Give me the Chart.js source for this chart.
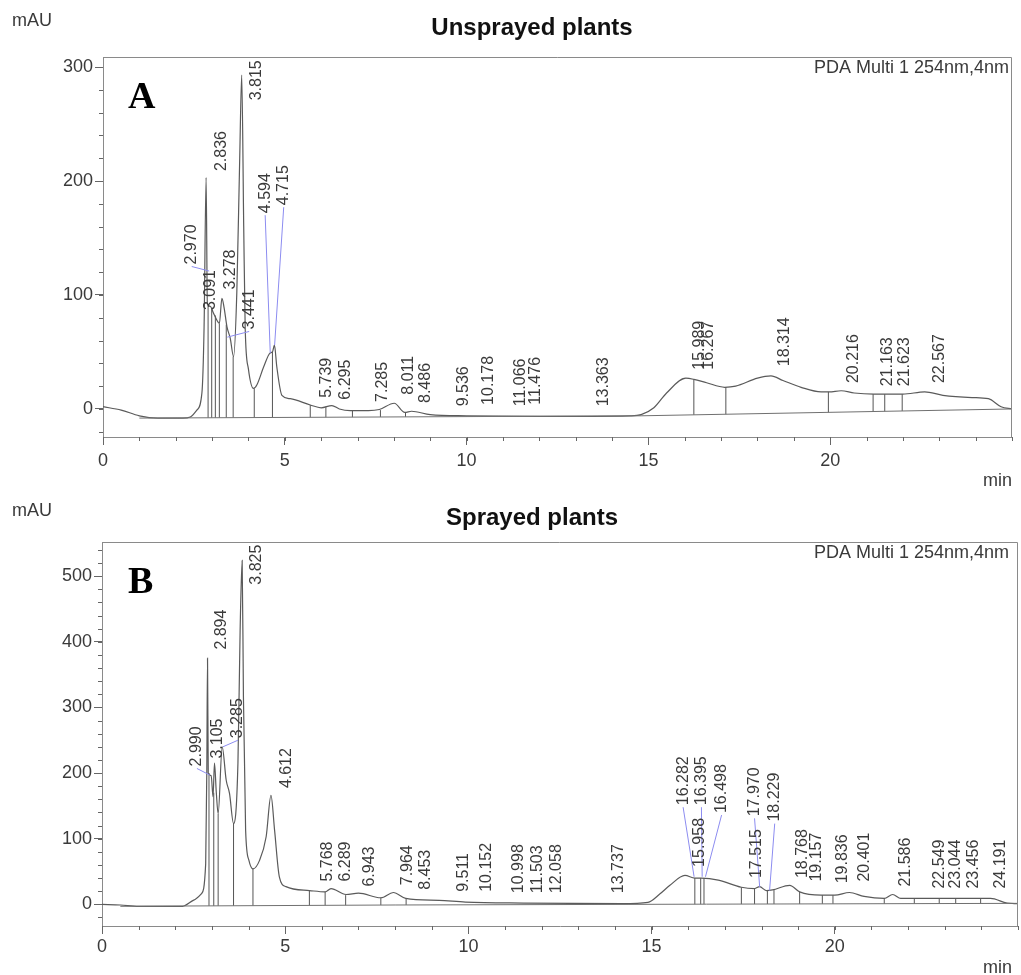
<!DOCTYPE html>
<html>
<head>
<meta charset="utf-8">
<title>HPLC chromatograms</title>
<script src="https://cdn.jsdelivr.net/npm/chart.js@4.4.1/dist/chart.umd.min.js"></script>
<style>
  body { margin: 0; background: #fff; }
  canvas { display: block; }
</style>
</head>
<body>
<canvas id="chartA" width="1021" height="490"></canvas>
<canvas id="chartB" width="1021" height="485"></canvas>
<script>
// ---- Panel A: unsprayed plants ----
const timeA = [0, 0.5, 1.0, 1.5, 2.2, 2.4, 2.58, 2.72, 2.78, 2.836, 2.87, 2.95, 3.04, 3.13, 3.20, 3.27, 3.33, 3.41, 3.50, 3.59,
  3.68, 3.76, 3.815, 3.87, 3.91, 4.0, 4.14, 4.23, 4.42, 4.594, 4.66, 4.715, 4.78, 4.92, 5.15, 5.7, 6.0, 6.295, 6.5, 6.8,
  7.3, 7.6, 8.011, 8.3, 8.486, 9.0, 10, 12, 14.5, 14.8, 15.15, 15.5, 16.03, 16.25, 16.6, 17.1, 17.4, 18.0, 18.37, 18.7,
  19.2, 19.75, 19.97, 20.3, 20.66, 21.2, 22.0, 22.6, 23.1, 23.9, 24.35, 24.7, 25.0];
const mauA = [2, -1, -6, -8, -8, -7, -1, 14, 72, 203, 92, 90, 84, 78, 75, 97, 89, 72, 62, 46,
  102, 220, 293, 160, 72, 35, 18, 21, 37, 49, 50, 56, 37, 12, 9, 3.5, 1, 3, 0, -1.5,
  -1.5, -0.5, 5, -3, -2, -5, -6, -6.5, -6, -5, 1, 14, 27, 26, 23, 19, 20, 27, 29, 25,
  19, 15, 15, 16, 14, 13, 13, 15, 12, 10, 9, 2, 0];
const baseTimeA = [1.0, 14.8, 25];
const baseMauA = [-8, -6, 0];
const dropTimeA = [2.89, 2.99, 3.09, 3.20, 3.39, 3.58, 4.16, 4.66, 5.70, 6.13, 6.86, 7.63, 8.32, 16.25, 17.13, 19.95, 21.18, 21.5, 21.98];
const dropTopA = [92, 88, 82, 75, 74, 46, 18, 50, 3.5, 2, -1.5, -1, -3, 26, 19, 15, 13, 13, 13];
const peakA = ['2.970', '3.091', '3.278', '3.441', '2.836', '3.815', '4.594', '4.715', '5.739', '6.295', '7.285', '8.011',
  '8.486', '9.536', '10.178', '11.066', '11.476', '13.363', '15.989', '16.267', '18.314', '20.216', '21.163', '21.623', '22.567'];
// where each retention-time label sits (minutes, mAU at its foot)
const labelAtA = [2.44, 2.95, 3.50, 4.02, 3.25, 4.23, 4.46, 4.97, 6.16, 6.67, 7.68, 8.41,
  8.87, 9.93, 10.61, 11.49, 11.90, 13.78, 16.40, 16.65, 18.74, 20.63, 21.59, 22.05, 23.01];
const labelFootA = [125, 85, 103, 68, 207, 269, 170, 177, 8, 6.4, 4.4, 10.8,
  3.5, 0.6, 1.8, 0.6, 2, 0.6, 32.7, 32.7, 35.7, 21, 18.2, 18.2, 21];
// leader lines from a label foot to its peak: [label index, minutes, mAU]
const leaderA = [[0, 2.92, 121], [3, 3.42, 63], [6, 4.60, 49], [7, 4.72, 56]];
const yTicksA = [0, 100, 200, 300];

// ---- Panel B: sprayed plants ----
const timeB = [0, 0.5, 1.0, 2.2, 2.49, 2.71, 2.83, 2.86, 2.88, 2.90, 2.98, 3.03, 3.07, 3.12, 3.17, 3.28, 3.39, 3.48, 3.59,
  3.71, 3.77, 3.825, 3.86, 3.92, 4.01, 4.12, 4.30, 4.48, 4.612, 4.71, 4.84, 5.02, 5.66, 6.09, 6.25, 6.66, 7.0, 7.61, 7.95,
  8.29, 9.2, 9.92, 11.5, 14.2, 14.9, 15.23, 15.5, 15.91, 16.18, 16.36, 16.82, 17.45, 17.81, 17.95, 18.13, 18.3, 18.77,
  19.04, 19.63, 20.0, 20.4, 20.8, 21.35, 21.58, 21.8, 22.85, 24.25, 24.7, 25];
const mauB = [0, -1, -3, -3, 6, 16, 62, 200, 375, 200, 196, 164, 215, 170, 138, 240, 189, 169, 123,
  215, 418, 524, 316, 113, 67, 54, 67, 103, 166, 113, 42, 27, 21, 19, 24, 15, 17, 10, 18,
  9, 6, 3.5, 2, 1, 3, 16, 29, 44, 40, 40, 37, 26, 24, 27, 21, 22, 29,
  19, 14, 14, 18, 12, 9, 15, 9, 9, 9, 2, 1];
const baseTimeB = [0.5, 8, 25];
const baseMauB = [-3, -1, 1.5];
const dropTimeB = [2.92, 3.05, 3.17, 3.59, 4.12, 5.66, 6.09, 6.65, 7.61, 8.30, 16.18, 16.34, 16.43, 17.45, 17.81, 18.16,
  18.34, 19.04, 19.66, 19.95, 21.35, 22.17, 22.85, 23.30, 23.98];
const dropTopB = [200, 170, 138, 123, 54, 21, 19, 14, 10, 9, 40, 40, 40, 26, 24, 21, 22, 19, 14, 14, 9, 9, 9, 9, 9];
const peakB = ['2.990', '3.105', '3.285', '2.894', '3.825', '4.612', '5.768', '6.289', '6.943', '7.964', '8.453', '9.511',
  '10.152', '10.998', '11.503', '12.058', '13.737', '16.282', '16.395', '16.498', '15.958', '17.970', '18.229', '17.515',
  '18.768', '19.157', '19.836', '20.401', '21.586', '22.549', '23.044', '23.456', '24.191'];
const labelAtB = [2.59, 3.15, 3.71, 3.26, 4.21, 5.03, 6.16, 6.66, 7.29, 8.33, 8.83, 9.88,
  10.51, 11.37, 11.90, 12.42, 14.10, 15.86, 16.36, 16.91, 16.32, 17.81, 18.36, 17.86,
  19.13, 19.49, 20.22, 20.81, 21.94, 22.85, 23.30, 23.80, 24.53];
const labelFootB = [207, 219, 250, 385, 484, 174, 31.6, 31.6, 24, 26, 19, 16,
  16, 14, 14, 14, 14, 148, 148, 136, 54, 131, 123, 37,
  37, 31.6, 29, 31.6, 24, 21, 21, 21, 21];
const leaderB = [[0, 2.94, 197], [2, 3.30, 240], [17, 16.16, 42], [18, 16.38, 42], [19, 16.47, 42],
  [21, 17.95, 26], [22, 18.22, 21]];
const yTicksB = [0, 100, 200, 300, 400, 500];

const xTicks = [0, 5, 10, 15, 20];

const FONT = '"Liberation Sans", Arial, sans-serif';
const INK = '#3a3a3a';
const FRAME = '#8a8a8a';

// straight-line value of the integration baseline at time t
function baseAt(t, bt, bv) {
  if (t <= bt[0]) return bv[0];
  for (let i = 1; i < bt.length; i++) {
    if (t <= bt[i]) {
      const f = (t - bt[i - 1]) / (bt[i] - bt[i - 1]);
      return bv[i - 1] + f * (bv[i] - bv[i - 1]);
    }
  }
  return bv[bv.length - 1];
}

// frame, minor ticks, peak labels and captions
const decorPlugin = {
  id: 'decor',
  afterDatasetsDraw(chart, args, o) {
    const ctx = chart.ctx;
    const a = chart.chartArea;
    const xs = chart.scales.x;
    const ys = chart.scales.y;
    ctx.save();

    // top and right frame
    ctx.strokeStyle = FRAME;
    ctx.lineWidth = 1;
    ctx.beginPath();
    ctx.moveTo(a.left, a.top + 0.5);
    ctx.lineTo(a.right - 0.5, a.top + 0.5);
    ctx.lineTo(a.right - 0.5, a.bottom);
    ctx.stroke();

    // minor ticks
    ctx.strokeStyle = '#666';
    ctx.beginPath();
    for (let t = 0; t <= xs.max; t += 1) {
      const px = Math.round(xs.getPixelForValue(t)) + 0.5;
      ctx.moveTo(px, a.bottom);
      ctx.lineTo(px, a.bottom + 4);
    }
    for (let v = -20; v <= ys.max; v += 20) {
      const py = Math.round(ys.getPixelForValue(v)) + 0.5;
      ctx.moveTo(a.left - 4, py);
      ctx.lineTo(a.left, py);
    }
    ctx.stroke();

    // leader lines
    ctx.strokeStyle = '#8c8cf0';
    ctx.beginPath();
    o.leaders.forEach(([i, t, v]) => {
      ctx.moveTo(xs.getPixelForValue(o.labelAt[i]), ys.getPixelForValue(o.labelFoot[i]));
      ctx.lineTo(xs.getPixelForValue(t), ys.getPixelForValue(v));
    });
    ctx.stroke();

    // retention time labels, rotated
    ctx.fillStyle = INK;
    ctx.font = '16px ' + FONT;
    ctx.textAlign = 'left';
    ctx.textBaseline = 'middle';
    o.peaks.forEach((txt, i) => {
      ctx.save();
      ctx.translate(xs.getPixelForValue(o.labelAt[i]), ys.getPixelForValue(o.labelFoot[i]) - 2);
      ctx.rotate(-Math.PI / 2);
      ctx.fillText(txt, 0, 0);
      ctx.restore();
    });

    // captions
    ctx.font = 'bold 24px ' + FONT;
    ctx.fillStyle = '#111';
    ctx.textAlign = 'center';
    ctx.fillText(o.title, 532, 28);

    ctx.font = '18px ' + FONT;
    ctx.fillStyle = INK;
    ctx.textAlign = 'left';
    ctx.fillText('mAU', 12, 21);
    ctx.textAlign = 'right';
    ctx.fillText('min', 1012, chart.height - o.minGap);
    ctx.fillText('PDA Multi 1 254nm,4nm', 1009, a.top + 11);

    ctx.font = 'bold 38px "Liberation Serif", "DejaVu Serif", serif';
    ctx.fillStyle = '#000';
    ctx.textAlign = 'left';
    ctx.textBaseline = 'alphabetic';
    ctx.fillText(o.letter, 128, a.top + 51);

    ctx.restore();
  }
};

function makeChart(id, d) {
  const trace = d.time.map((t, i) => ({ x: t, y: d.mau[i] }));
  const base = d.baseTime.map((t, i) => ({ x: t, y: d.baseMau[i] }));
  const datasets = [
    { data: base, borderColor: '#707070', borderWidth: 1 },
    { data: trace, borderColor: '#5a5a5a', borderWidth: 1.2, cubicInterpolationMode: 'monotone' }
  ];
  // vertical drop lines between neighbouring peaks
  d.dropTime.forEach((t, i) => {
    datasets.push({
      data: [{ x: t, y: baseAt(t, d.baseTime, d.baseMau) }, { x: t, y: d.dropTop[i] }],
      borderColor: '#555', borderWidth: 1
    });
  });

  return new Chart(document.getElementById(id), {
    type: 'line',
    data: { datasets: datasets },
    plugins: [decorPlugin],
    options: {
      responsive: false,
      animation: false,
      devicePixelRatio: 1,
      events: [],
      elements: { point: { radius: 0 }, line: { tension: 0 } },
      layout: { padding: { top: d.top, right: d.right, left: 0, bottom: 0 } },
      plugins: {
        legend: { display: false },
        tooltip: { enabled: false },
        decor: {
          title: d.title, letter: d.letter, peaks: d.peaks, minGap: d.minGap,
          labelAt: d.labelAt, labelFoot: d.labelFoot, leaders: d.leaders
        }
      },
      scales: {
        x: {
          type: 'linear', min: 0, max: 25,
          afterBuildTicks: s => { s.ticks = xTicks.map(v => ({ value: v })); },
          afterFit: s => { s.height = d.xHeight; },
          grid: { drawOnChartArea: false, tickLength: 8, color: '#666' },
          border: { color: FRAME },
          ticks: { color: INK, font: { family: FONT, size: 18 }, padding: d.xPad, maxRotation: 0 }
        },
        y: {
          type: 'linear', min: d.ymin, max: d.ymax,
          afterBuildTicks: s => { s.ticks = d.yTicks.map(v => ({ value: v })); },
          afterFit: s => { s.width = d.yWidth; },
          grid: { drawOnChartArea: false, tickLength: 8, color: '#666' },
          border: { color: FRAME },
          ticks: { color: INK, font: { family: FONT, size: 18 }, padding: 2 }
        }
      }
    }
  });
}

makeChart('chartA', {
  time: timeA, mau: mauA, baseTime: baseTimeA, baseMau: baseMauA,
  dropTime: dropTimeA, dropTop: dropTopA,
  peaks: peakA, labelAt: labelAtA, labelFoot: labelFootA, leaders: leaderA,
  yTicks: yTicksA, ymin: -24.6, ymax: 308.8,
  title: 'Unsprayed plants', letter: 'A',
  top: 57, right: 9, yWidth: 103, xHeight: 53, xPad: 5, minGap: 9
});

makeChart('chartB', {
  time: timeB, mau: mauB, baseTime: baseTimeB, baseMau: baseMauB,
  dropTime: dropTimeB, dropTop: dropTopB,
  peaks: peakB, labelAt: labelAtB, labelFoot: labelFootB, leaders: leaderB,
  yTicks: yTicksB, ymin: -33, ymax: 552,
  title: 'Sprayed plants', letter: 'B',
  top: 52, right: 3, yWidth: 102, xHeight: 49, xPad: 2, minGap: 7
});
</script>
</body>
</html>
